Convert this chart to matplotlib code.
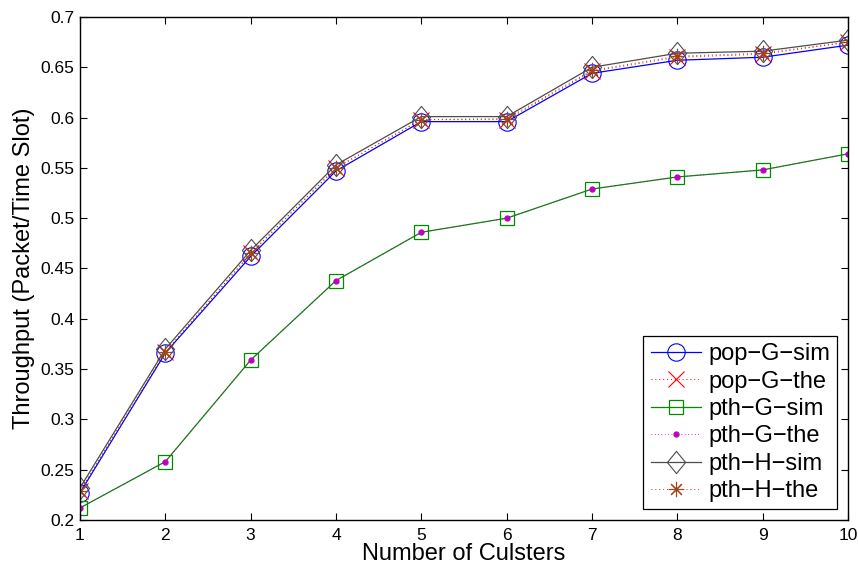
import matplotlib
matplotlib.use("Agg")
import matplotlib.pyplot as plt
from matplotlib.path import Path

plt.rcParams['font.family'] = ['Liberation Sans', 'DejaVu Sans']

clusters = [1, 2, 3, 4, 5, 6, 7, 8, 9, 10]

pop_g_sim = [0.227, 0.366, 0.462, 0.547, 0.596, 0.596, 0.644, 0.657, 0.660, 0.672]
pop_g_the = [0.229, 0.367, 0.465, 0.550, 0.598, 0.598, 0.646, 0.660, 0.663, 0.675]
pth_g_sim = [0.212, 0.258, 0.359, 0.438, 0.486, 0.500, 0.529, 0.541, 0.548, 0.564]
pth_g_the = [0.212, 0.258, 0.359, 0.438, 0.486, 0.500, 0.529, 0.541, 0.548, 0.564]
pth_h_sim = [0.232, 0.370, 0.468, 0.553, 0.601, 0.601, 0.650, 0.664, 0.666, 0.677]
pth_h_the = [0.229, 0.367, 0.465, 0.550, 0.598, 0.599, 0.647, 0.661, 0.664, 0.675]

xticks = list(range(1, 11))
yticks = [0.2, 0.25, 0.3, 0.35, 0.4, 0.45, 0.5, 0.55, 0.6, 0.65, 0.7]
ytick_labels = ['0.2', '0.25', '0.3', '0.35', '0.4', '0.45', '0.5', '0.55', '0.6', '0.65', '0.7']

fig = plt.figure(figsize=(8.58, 5.70), dpi=100)
ax = fig.add_axes([80 / 858, 1 - 520 / 570, (848 - 80) / 858, (520 - 17) / 570])

gray = (0.3, 0.3, 0.3)
brown = (0.62, 0.27, 0.1)
dotted = (0, (1, 3))

# wide diamond, closer to the classic MATLAB 'd' shape
diamond = Path([(0, 1), (0.82, 0), (0, -1), (-0.82, 0), (0, 1)],
               [Path.MOVETO, Path.LINETO, Path.LINETO, Path.LINETO, Path.CLOSEPOLY])

ax.plot(clusters, pop_g_sim, '-', color='b', marker='o', markersize=12.5,
        markerfacecolor='none', markeredgewidth=0.8, linewidth=0.9, label='pop\u2212G\u2212sim')
ax.plot(clusters, pop_g_the, linestyle=dotted, color='r', marker='x', markersize=11,
        markeredgewidth=0.8, linewidth=0.7, label='pop\u2212G\u2212the')
ax.plot(clusters, pth_g_sim, '-', color=(0, 0.55, 0), marker='s', markersize=10,
        markerfacecolor='none', markeredgewidth=0.9, linewidth=0.9, label='pth\u2212G\u2212sim')
ax.plot(clusters, pth_g_the, linestyle=dotted, color='m', marker='.', markersize=7,
        linewidth=0.6, label='pth\u2212G\u2212the')
ax.plot(clusters, pth_h_sim, '-', color=gray, marker=diamond, markersize=16,
        markerfacecolor='none', markeredgewidth=0.8, linewidth=0.9, label='pth\u2212H\u2212sim')
ax.plot(clusters, pth_h_the, linestyle=dotted, color=brown, marker=(8, 2, 0), markersize=11,
        markeredgewidth=0.8, linewidth=0.7, label='pth\u2212H\u2212the')

ax.set_xlim(1, 10)
ax.set_ylim(0.2, 0.7)
ax.set_xticks(xticks)
ax.set_yticks(yticks)
ax.set_yticklabels(ytick_labels)
ax.tick_params(direction='in', top=True, right=True, labelsize=12.5, length=5, width=0.8)
ax.tick_params(axis='x', pad=6)
ax.tick_params(axis='y', pad=4)
for s in ax.spines.values():
    s.set_linewidth(1.0)

ax.set_xlabel('Number of Culsters', fontsize=17, labelpad=0)
ax.set_ylabel('Throughput (Packet/Time Slot)', fontsize=17, labelpad=4)

leg = ax.legend(loc='lower right', fontsize=17, handlelength=2.15, handletextpad=0.3,
                labelspacing=0.23, borderpad=0.3, fancybox=False, framealpha=1,
                edgecolor='black', borderaxespad=0.45)
leg.get_frame().set_linewidth(0.9)

fig.savefig('out.png', dpi=100)
